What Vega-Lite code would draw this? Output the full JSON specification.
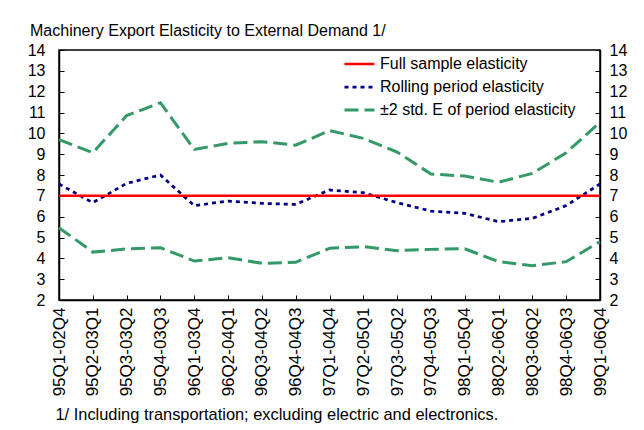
{
  "$schema": "https://vega.github.io/schema/vega-lite/v6.json",
  "width": 541,
  "height": 250,
  "autosize": {"type": "none"},
  "padding": {"left": 59, "top": 50, "right": 44, "bottom": 130},
  "background": "white",
  "title": {
    "text": "Machinery Export Elasticity to External Demand 1/",
    "anchor": "start",
    "frame": "group",
    "font": "Liberation Sans",
    "fontSize": 16,
    "fontWeight": "normal",
    "color": "black",
    "dx": -29,
    "dy": 3,
    "offset": 6
  },
  "data": {
    "values": [
      {"period": "95Q1-02Q4", "series": "Rolling period elasticity", "line": "rolling", "value": 7.57},
      {"period": "95Q2-03Q1", "series": "Rolling period elasticity", "line": "rolling", "value": 6.67},
      {"period": "95Q3-03Q2", "series": "Rolling period elasticity", "line": "rolling", "value": 7.6},
      {"period": "95Q4-03Q3", "series": "Rolling period elasticity", "line": "rolling", "value": 8.0},
      {"period": "96Q1-03Q4", "series": "Rolling period elasticity", "line": "rolling", "value": 6.53},
      {"period": "96Q2-04Q1", "series": "Rolling period elasticity", "line": "rolling", "value": 6.75},
      {"period": "96Q3-04Q2", "series": "Rolling period elasticity", "line": "rolling", "value": 6.64},
      {"period": "96Q4-04Q3", "series": "Rolling period elasticity", "line": "rolling", "value": 6.59},
      {"period": "97Q1-04Q4", "series": "Rolling period elasticity", "line": "rolling", "value": 7.28},
      {"period": "97Q2-05Q1", "series": "Rolling period elasticity", "line": "rolling", "value": 7.15},
      {"period": "97Q3-05Q2", "series": "Rolling period elasticity", "line": "rolling", "value": 6.67},
      {"period": "97Q4-05Q3", "series": "Rolling period elasticity", "line": "rolling", "value": 6.27},
      {"period": "98Q1-05Q4", "series": "Rolling period elasticity", "line": "rolling", "value": 6.16},
      {"period": "98Q2-06Q1", "series": "Rolling period elasticity", "line": "rolling", "value": 5.76},
      {"period": "98Q3-06Q2", "series": "Rolling period elasticity", "line": "rolling", "value": 5.92},
      {"period": "98Q4-06Q3", "series": "Rolling period elasticity", "line": "rolling", "value": 6.53},
      {"period": "99Q1-06Q4", "series": "Rolling period elasticity", "line": "rolling", "value": 7.57},
      {"period": "95Q1-02Q4", "series": "±2 std. E of period elasticity", "line": "upper", "value": 9.7},
      {"period": "95Q2-03Q1", "series": "±2 std. E of period elasticity", "line": "upper", "value": 9.07},
      {"period": "95Q3-03Q2", "series": "±2 std. E of period elasticity", "line": "upper", "value": 10.85},
      {"period": "95Q4-03Q3", "series": "±2 std. E of period elasticity", "line": "upper", "value": 11.47},
      {"period": "96Q1-03Q4", "series": "±2 std. E of period elasticity", "line": "upper", "value": 9.23},
      {"period": "96Q2-04Q1", "series": "±2 std. E of period elasticity", "line": "upper", "value": 9.52},
      {"period": "96Q3-04Q2", "series": "±2 std. E of period elasticity", "line": "upper", "value": 9.6},
      {"period": "96Q4-04Q3", "series": "±2 std. E of period elasticity", "line": "upper", "value": 9.43},
      {"period": "97Q1-04Q4", "series": "±2 std. E of period elasticity", "line": "upper", "value": 10.13},
      {"period": "97Q2-05Q1", "series": "±2 std. E of period elasticity", "line": "upper", "value": 9.76},
      {"period": "97Q3-05Q2", "series": "±2 std. E of period elasticity", "line": "upper", "value": 9.1},
      {"period": "97Q4-05Q3", "series": "±2 std. E of period elasticity", "line": "upper", "value": 8.05},
      {"period": "98Q1-05Q4", "series": "±2 std. E of period elasticity", "line": "upper", "value": 7.95},
      {"period": "98Q2-06Q1", "series": "±2 std. E of period elasticity", "line": "upper", "value": 7.65},
      {"period": "98Q3-06Q2", "series": "±2 std. E of period elasticity", "line": "upper", "value": 8.08},
      {"period": "98Q4-06Q3", "series": "±2 std. E of period elasticity", "line": "upper", "value": 9.07},
      {"period": "99Q1-06Q4", "series": "±2 std. E of period elasticity", "line": "upper", "value": 10.53},
      {"period": "95Q1-02Q4", "series": "±2 std. E of period elasticity", "line": "lower", "value": 5.47},
      {"period": "95Q2-03Q1", "series": "±2 std. E of period elasticity", "line": "lower", "value": 4.3},
      {"period": "95Q3-03Q2", "series": "±2 std. E of period elasticity", "line": "lower", "value": 4.45},
      {"period": "95Q4-03Q3", "series": "±2 std. E of period elasticity", "line": "lower", "value": 4.51},
      {"period": "96Q1-03Q4", "series": "±2 std. E of period elasticity", "line": "lower", "value": 3.87},
      {"period": "96Q2-04Q1", "series": "±2 std. E of period elasticity", "line": "lower", "value": 4.03},
      {"period": "96Q3-04Q2", "series": "±2 std. E of period elasticity", "line": "lower", "value": 3.76},
      {"period": "96Q4-04Q3", "series": "±2 std. E of period elasticity", "line": "lower", "value": 3.81},
      {"period": "97Q1-04Q4", "series": "±2 std. E of period elasticity", "line": "lower", "value": 4.48},
      {"period": "97Q2-05Q1", "series": "±2 std. E of period elasticity", "line": "lower", "value": 4.56},
      {"period": "97Q3-05Q2", "series": "±2 std. E of period elasticity", "line": "lower", "value": 4.37},
      {"period": "97Q4-05Q3", "series": "±2 std. E of period elasticity", "line": "lower", "value": 4.43},
      {"period": "98Q1-05Q4", "series": "±2 std. E of period elasticity", "line": "lower", "value": 4.46},
      {"period": "98Q2-06Q1", "series": "±2 std. E of period elasticity", "line": "lower", "value": 3.84},
      {"period": "98Q3-06Q2", "series": "±2 std. E of period elasticity", "line": "lower", "value": 3.65},
      {"period": "98Q4-06Q3", "series": "±2 std. E of period elasticity", "line": "lower", "value": 3.84},
      {"period": "99Q1-06Q4", "series": "±2 std. E of period elasticity", "line": "lower", "value": 4.8},
      {"period": "95Q1-02Q4", "series": "Full sample elasticity", "line": "full", "value": 7},
      {"period": "99Q1-06Q4", "series": "Full sample elasticity", "line": "full", "value": 7}
    ]
  },
  "encoding": {
    "x": {
      "field": "period",
      "type": "ordinal",
      "scale": {"type": "point", "padding": 0},
      "sort": ["95Q1-02Q4","95Q2-03Q1","95Q3-03Q2","95Q4-03Q3","96Q1-03Q4","96Q2-04Q1","96Q3-04Q2","96Q4-04Q3","97Q1-04Q4","97Q2-05Q1","97Q3-05Q2","97Q4-05Q3","98Q1-05Q4","98Q2-06Q1","98Q3-06Q2","98Q4-06Q3","99Q1-06Q4"],
      "axis": {
        "title": "1/ Including transportation; excluding electric and electronics.",
        "titleFont": "Liberation Sans",
        "titleFontSize": 16.4,
        "titleFontWeight": "normal",
        "titleColor": "black",
        "titleAlign": "left",
        "titleAnchor": "start",
        "titleBaseline": "alphabetic",
        "titleX": -4,
        "titleY": 119,
        "titleLimit": 1000,
        "labelAngle": 270,
        "labelAlign": "right",
        "labelBaseline": "middle",
        "labelFont": "Liberation Sans",
        "labelFontSize": 17,
        "labelColor": "black",
        "labelPadding": 12,
        "labelOverlap": false,
        "tickSize": -5,
        "tickColor": "black",
        "domainColor": "black",
        "domainWidth": 1.5
      }
    },
    "y": {
      "field": "value",
      "type": "quantitative",
      "scale": {"domain": [2, 14], "nice": false, "zero": false}
    }
  },
  "layer": [
    {
      "mark": {"type": "line", "interpolate": "linear"},
      "encoding": {
        "y": {
          "field": "value",
          "type": "quantitative",
          "axis": {
            "orient": "left",
            "title": null,
            "values": [2,3,4,5,6,7,8,9,10,11,12,13,14],
            "grid": false,
            "labelOverlap": false,
            "labelFont": "Liberation Sans",
            "labelFontSize": 16,
            "labelColor": "black",
            "labelPadding": 19,
            "tickSize": -5,
            "tickColor": "black",
            "domainColor": "black",
            "domainWidth": 1.5
          }
        },
        "detail": {"field": "line"},
        "color": {
          "field": "series",
          "type": "nominal",
          "scale": {
            "domain": ["Full sample elasticity", "Rolling period elasticity", "±2 std. E of period elasticity"],
            "range": ["#FF0000", "#000080", "#339966"]
          },
          "legend": {
            "title": null,
            "orient": "none",
            "legendX": 284,
            "legendY": 4,
            "symbolType": "stroke",
            "symbolSize": 900,
            "clipHeight": 20,
            "rowPadding": 3,
            "labelFont": "Liberation Sans",
            "labelFontSize": 16,
            "labelColor": "black",
            "labelOffset": 4,
            "labelLimit": 400
          }
        },
        "strokeDash": {
          "field": "series",
          "type": "nominal",
          "scale": {
            "domain": ["Full sample elasticity", "Rolling period elasticity", "±2 std. E of period elasticity"],
            "range": [[1, 0], [4, 4], [14, 6]]
          },
          "legend": {
            "title": null,
            "orient": "none",
            "legendX": 284,
            "legendY": 4,
            "symbolType": "stroke",
            "symbolSize": 900,
            "clipHeight": 20,
            "rowPadding": 3,
            "labelFont": "Liberation Sans",
            "labelFontSize": 16,
            "labelColor": "black",
            "labelOffset": 4,
            "labelLimit": 400
          }
        },
        "strokeWidth": {
          "field": "series",
          "type": "nominal",
          "scale": {
            "domain": ["Full sample elasticity", "Rolling period elasticity", "±2 std. E of period elasticity"],
            "range": [2.5, 3, 2]
          },
          "legend": {
            "title": null,
            "orient": "none",
            "legendX": 284,
            "legendY": 4,
            "symbolType": "stroke",
            "symbolSize": 900,
            "clipHeight": 20,
            "rowPadding": 3,
            "labelFont": "Liberation Sans",
            "labelFontSize": 16,
            "labelColor": "black",
            "labelOffset": 4,
            "labelLimit": 400
          }
        }
      }
    },
    {
      "mark": {"type": "point", "opacity": 0},
      "encoding": {
        "y": {
          "field": "value",
          "type": "quantitative",
          "axis": {
            "orient": "right",
            "title": null,
            "values": [2,3,4,5,6,7,8,9,10,11,12,13,14],
            "grid": false,
            "labelOverlap": false,
            "labelFont": "Liberation Sans",
            "labelFontSize": 16,
            "labelColor": "black",
            "labelPadding": 14,
            "tickSize": -5,
            "tickColor": "black",
            "domainColor": "black",
            "domainWidth": 1.5
          }
        }
      }
    }
  ],
  "resolve": {"axis": {"y": "independent"}},
  "config": {
    "view": {"stroke": "black", "strokeWidth": 1.5},
    "axis": {"labelFlush": false, "labelOverlap": false}
  }
}
